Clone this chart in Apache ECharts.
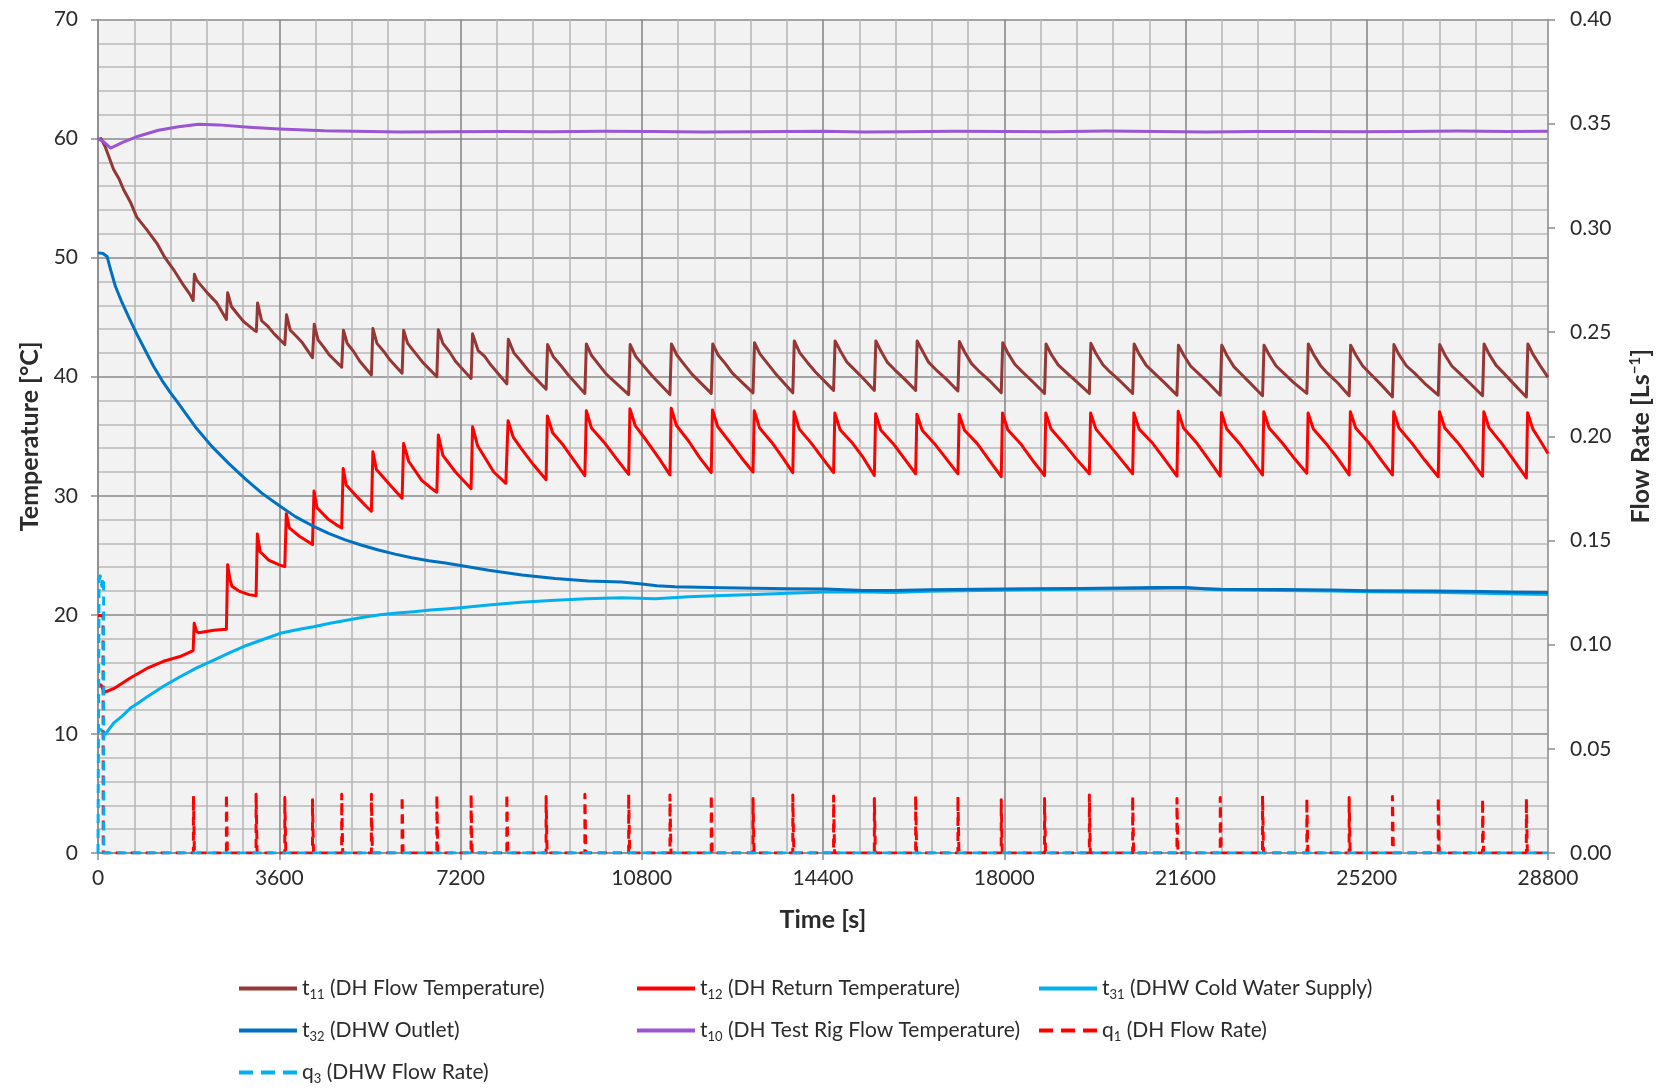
<!DOCTYPE html>
<html>
<head>
<meta charset="utf-8">
<script src="https://cdn.jsdelivr.net/npm/echarts@6/dist/echarts.min.js"></script>
<style>
  html, body { margin: 0; padding: 0; background: #ffffff; }
  #chart { width: 1663px; height: 1088px; }
</style>
</head>
<body>
<div id="chart"></div>
<script>
// ---- Axis ticks ----
const timeTicks = [0, 3600, 7200, 10800, 14400, 18000, 21600, 25200, 28800];
const tempTicks = [0, 10, 20, 30, 40, 50, 60, 70];
const flowTicks = [0, 0.05, 0.10, 0.15, 0.20, 0.25, 0.30, 0.35, 0.40];

// ---- Legend labels: symbol, subscript, description ----
const labelBase = ['t', 't', 't', 't', 't', 'q', 'q'];
const labelSub  = ['11', '12', '31', '32', '10', '1', '3'];
const labelDesc = ['DH Flow Temperature', 'DH Return Temperature', 'DHW Cold Water Supply',
                   'DHW Outlet', 'DH Test Rig Flow Temperature', 'DH Flow Rate', 'DHW Flow Rate'];

// ---- t11: DH flow temperature [°C], [time s, value] ----
const t11 = [
  [0,59.9],[60,60.0],[145,59.3],[310,57.4],[420,56.6],[510,55.7],[640,54.7],[770,53.4],[960,52.4],[1170,51.2],[1330,50.0],[1500,49.0],[1680,47.8],[1830,46.9],[1890,46.4],
  [1915,48.6],[1960,48.1],[2000,47.9],[2180,47.0],[2360,46.2],[2550,44.8],
  [2575,47.05],[2650,45.9],[2780,45.2],[2900,44.6],[3090,43.95],[3145,43.8],
  [3170,46.2],[3250,44.7],[3380,44.2],[3500,43.6],[3710,42.7],
  [3745,45.2],[3820,43.9],[3940,43.4],[4050,42.9],[4260,41.6],
  [4295,44.4],[4370,43.1],[4480,42.5],[4600,41.8],[4840,40.8],
  [4875,43.9],[4950,42.8],[5080,42.1],[5200,41.3],[5430,40.15],
  [5460,44.05],[5540,42.8],[5680,42.1],[5800,41.4],[6040,40.3],
  [6070,43.9],[6150,42.8],[6300,42.0],[6450,41.2],[6730,40.0],
  [6760,43.95],[6850,42.8],[6980,42.1],[7100,41.3],[7410,39.85],
  [7440,43.6],[7550,42.2],[7680,41.7],[7800,41.0],[8120,39.4],
  [8150,43.15],[8260,42.0],[8400,41.3],[8550,40.5],[8900,38.95],
  [8930,42.7],[9040,41.7],[9200,40.9],[9350,40.1],[9670,38.6],
  [9700,42.75],[9800,41.8],[9950,41.0],[10100,40.2],[10540,38.5],
  [10570,42.7],[10680,41.7],[10840,40.9],[11000,40.1],[11360,38.5],
  [11390,42.75],[11500,41.8],[11650,41.0],[11800,40.2],[12180,38.6],
  [12210,42.75],[12320,41.8],[12460,41.1],[12600,40.3],[13010,38.65],
  [13040,42.85],[13150,41.9],[13300,41.1],[13450,40.3],[13800,38.65],
  [13830,43.0],[13940,42.0],[14090,41.2],[14250,40.4],[14610,38.85],
  [14640,43.0],[14740,42.2],[14870,41.25],[15000,40.7],[15200,39.85],[15420,38.85],
  [15450,43.0],[15550,42.15],[15680,41.2],[15820,40.6],[16020,39.8],[16240,38.85],
  [16270,43.0],[16370,42.2],[16500,41.2],[16640,40.6],[16850,39.8],[17080,38.8],
  [17110,42.95],[17210,42.1],[17350,41.1],[17490,40.5],[17700,39.7],[17940,38.65],
  [17970,42.85],[18070,42.0],[18210,41.05],[18350,40.45],[18560,39.6],[18800,38.6],
  [18830,42.75],[18930,41.9],[19070,41.0],[19220,40.4],[19430,39.6],[19690,38.6],
  [19720,42.8],[19820,41.95],[19960,41.0],[20100,40.4],[20310,39.6],[20550,38.6],
  [20580,42.75],[20680,41.9],[20820,40.95],[20970,40.35],[21180,39.5],[21430,38.45],
  [21460,42.65],[21560,41.85],[21700,40.9],[21850,40.3],[22050,39.5],[22290,38.45],
  [22320,42.65],[22420,41.8],[22560,40.85],[22700,40.25],[22900,39.4],[23130,38.4],
  [23160,42.65],[23260,41.85],[23400,40.9],[23550,40.3],[23750,39.5],[24010,38.6],
  [24040,42.75],[24140,41.9],[24280,40.95],[24420,40.3],[24630,39.45],[24850,38.4],
  [24880,42.65],[24980,41.85],[25120,40.9],[25270,40.25],[25470,39.4],[25710,38.3],
  [25740,42.7],[25840,41.85],[25990,40.9],[26150,40.3],[26350,39.45],[26620,38.45],
  [26650,42.7],[26750,41.85],[26890,40.9],[27040,40.3],[27250,39.45],[27500,38.4],
  [27530,42.75],[27630,41.9],[27770,40.95],[27920,40.3],[28120,39.4],[28370,38.3],
  [28400,42.75],[28500,41.9],[28640,40.95],[28800,39.95]
];

// ---- t12: DH return temperature [°C] ----
const t12 = [
  [0,14.2],[60,14.1],[130,13.5],[310,13.8],[640,14.7],[970,15.5],[1300,16.1],[1630,16.5],[1890,17.0],
  [1910,19.3],[1960,18.6],[2000,18.5],[2300,18.7],[2550,18.8],
  [2575,24.2],[2620,23.0],[2660,22.4],[2800,22.0],[3000,21.7],[3140,21.6],
  [3165,26.8],[3220,25.3],[3390,24.6],[3600,24.2],[3710,24.05],
  [3740,28.5],[3800,27.3],[4000,26.6],[4150,26.2],[4260,25.9],
  [4290,30.4],[4350,29.0],[4580,28.0],[4720,27.6],[4840,27.3],
  [4870,32.3],[4930,30.9],[5170,29.8],[5330,29.1],[5430,28.7],
  [5460,33.7],[5530,32.2],[5770,31.05],[5930,30.3],[6040,29.8],
  [6070,34.4],[6170,32.9],[6430,31.3],[6600,30.7],[6730,30.3],
  [6760,35.1],[6850,33.4],[7100,32.0],[7300,31.1],[7410,30.6],
  [7440,35.8],[7540,34.2],[7860,32.0],[8100,31.05],
  [8145,36.3],[8250,34.9],[8400,34.0],[8650,32.6],[8900,31.35],
  [8925,36.7],[9030,35.3],[9250,34.2],[9450,33.0],[9670,31.7],
  [9700,37.15],[9800,35.7],[10050,34.5],[10300,33.1],[10540,31.8],
  [10565,37.3],[10670,35.9],[10900,34.6],[11150,33.1],[11360,31.75],
  [11385,37.35],[11490,35.9],[11730,34.6],[11950,33.2],[12180,31.95],
  [12205,37.2],[12310,35.8],[12550,34.5],[12780,33.2],[13010,32.0],
  [13035,37.15],[13140,35.7],[13380,34.5],[13600,33.2],[13800,31.95],
  [13825,37.05],[13930,35.6],[14170,34.4],[14400,33.1],[14610,31.95],
  [14635,36.95],[14740,35.55],[14970,34.5],[15200,33.2],[15420,31.7],
  [15445,36.9],[15550,35.5],[15790,34.4],[16020,33.1],[16240,31.85],
  [16265,36.85],[16370,35.5],[16610,34.4],[16850,33.1],[17080,31.85],
  [17105,36.85],[17210,35.5],[17460,34.4],[17700,33.0],[17940,31.6],
  [17965,36.95],[18070,35.55],[18320,34.4],[18560,33.0],[18800,31.7],
  [18825,36.95],[18930,35.6],[19180,34.4],[19430,33.1],[19690,31.85],
  [19715,36.95],[19820,35.6],[20060,34.4],[20310,33.1],[20550,31.85],
  [20575,36.95],[20680,35.6],[20930,34.5],[21180,33.1],[21430,31.65],
  [21455,37.1],[21560,35.7],[21810,34.5],[22050,33.1],[22290,31.65],
  [22315,37.0],[22420,35.6],[22670,34.4],[22900,33.1],[23130,31.75],
  [23155,37.05],[23260,35.7],[23510,34.5],[23750,33.2],[24010,31.9],
  [24035,36.95],[24140,35.6],[24390,34.4],[24630,33.1],[24850,31.75],
  [24875,37.05],[24980,35.7],[25230,34.5],[25470,33.1],[25710,31.75],
  [25735,37.05],[25840,35.7],[26100,34.4],[26350,33.0],[26620,31.6],
  [26645,37.05],[26750,35.7],[27000,34.5],[27250,33.1],[27500,31.65],
  [27525,37.05],[27630,35.7],[27880,34.4],[28120,33.0],[28370,31.5],
  [28395,36.98],[28500,35.6],[28650,34.6],[28800,33.55]
];

// ---- t31: DHW cold water supply [°C] ----
const t31 = [
  [0,10.4],[60,10.35],[150,10.0],[310,10.9],[480,11.5],[640,12.15],[800,12.6],[970,13.1],[1300,14.0],[1630,14.8],
  [1960,15.55],[2300,16.2],[2630,16.85],[2960,17.45],[3290,17.95],[3620,18.45],[3950,18.75],[4280,19.0],[4610,19.3],
  [4940,19.55],[5270,19.8],[5600,20.0],[5940,20.15],[6270,20.27],[6600,20.4],[6900,20.5],[7200,20.6],[7760,20.83],
  [8400,21.05],[9080,21.22],[9700,21.35],[10400,21.43],[11070,21.35],[11730,21.52],[12400,21.62],[13050,21.72],
  [13700,21.82],[14450,21.92],[15000,21.95],[15800,21.88],[16500,21.98],[17500,22.05],[18500,22.1],[19500,22.15],
  [20300,22.2],[21000,22.22],[21600,22.25],[22300,22.1],[23500,22.05],[24500,22.0],[25230,21.95],[26500,21.9],
  [27500,21.82],[28200,21.75],[28800,21.7]
];

// ---- t32: DHW outlet [°C] ----
const t32 = [
  [0,50.4],[100,50.35],[180,50.1],[250,49.0],[345,47.6],[470,46.3],[610,45.0],[770,43.6],[940,42.2],[1100,40.9],
  [1270,39.7],[1430,38.7],[1600,37.75],[1930,35.8],[2260,34.15],[2600,32.7],[2930,31.4],[3260,30.2],[3590,29.2],
  [3920,28.25],[4250,27.5],[4580,26.85],[4910,26.3],[5240,25.85],[5570,25.45],[5900,25.1],[6230,24.8],[6570,24.55],
  [6900,24.35],[7200,24.15],[7760,23.75],[8420,23.35],[9080,23.05],[9740,22.85],[10400,22.75],[10800,22.6],
  [11100,22.45],[11460,22.37],[12400,22.28],[13700,22.2],[14450,22.18],[15200,22.05],[15800,22.05],[16500,22.1],
  [17500,22.15],[18500,22.2],[19500,22.22],[20300,22.25],[21000,22.3],[21600,22.3],[22000,22.2],[22300,22.15],
  [23500,22.12],[24500,22.08],[25230,22.03],[26500,22.0],[27500,21.97],[28200,21.9],[28800,21.87]
];

// ---- t10: DH test rig flow temperature [°C] ----
const t10 = [
  [0,60.0],[120,59.7],[250,59.2],[500,59.7],[800,60.2],[1200,60.7],[1600,61.0],[2000,61.2],[2400,61.15],
  [3000,60.95],[3600,60.8],[4500,60.65],[6000,60.55],[7000,60.58],[8000,60.6],[9000,60.58],[10000,60.62],
  [11000,60.6],[12000,60.55],[13000,60.58],[14400,60.62],[15200,60.55],[16000,60.58],[17000,60.62],[18000,60.6],
  [19000,60.58],[20000,60.63],[21000,60.6],[22000,60.55],[23000,60.6],[24000,60.6],[25000,60.58],[26000,60.6],
  [27000,60.63],[28000,60.6],[28800,60.62]
];

// ---- q1: DH flow rate [L/s], draw-off pulses ----
const q1Start = [1895,2550,3140,3710,4260,4840,5430,6040,6730,7410,8120,8900,9670,10540,11360,12180,13010,13800,
                 14610,15420,16240,17080,17940,18800,19690,20550,21430,22290,23130,24010,24850,25710,26620,27500,28370];
const q1End   = [1915,2570,3160,3730,4280,4860,5450,6060,6750,7430,8140,8920,9690,10560,11380,12200,13030,13820,
                 14630,15440,16260,17100,17960,18820,19710,20570,21450,22310,23150,24030,24870,25730,26640,27520,28390];
const q1Peak  = [0.0274,0.0282,0.0282,0.0266,0.0255,0.0282,0.0282,0.0271,0.0278,0.0282,0.0282,0.0271,0.0282,0.0282,
                 0.0278,0.0278,0.0261,0.0278,0.0274,0.0261,0.0274,0.0271,0.0255,0.0261,0.0278,0.0271,0.0261,0.0266,
                 0.0274,0.0261,0.0266,0.0271,0.0266,0.0258,0.0261];
const q1Initial = [[0,0.114],[100,0.114],[105,0]];

// ---- q3: DHW flow rate [L/s] ----
const q3 = [[0,0],[20,0.131],[45,0.133],[75,0.128],[95,0.132],[112,0.13],[115,0],[28800,0]];

// Pulse series for q1 built from the start/end/peak lists
const q1 = q1Initial.slice();
for (let i = 0; i < q1Start.length; i++) {
  q1.push([q1Start[i], 0], [q1Start[i], q1Peak[i]], [q1End[i], q1Peak[i]], [q1End[i], 0]);
}
q1.push([28800, 0]);

const names = labelBase.map((b, i) => b + labelSub[i] + ' (' + labelDesc[i] + ')');
const richNames = {};
names.forEach((n, i) => { richNames[n] = labelBase[i] + '{s|' + labelSub[i] + '} (' + labelDesc[i] + ')'; });

const colors = ['#953735', '#ff0000', '#00b0f0', '#0070c0', '#9b55d2', '#ff0000', '#00b0f0'];
const seriesData = [t11, t12, t31, t32, t10, q1, q3];
const axisIdx = [0, 0, 0, 0, 0, 1, 1];
const dashed = [false, false, false, false, false, true, true];

const FONT = 'Lato, "Open Sans", sans-serif';
const TXT = '#2b2b2b';

const series = seriesData.map((d, i) => ({
  name: names[i],
  type: 'line',
  yAxisIndex: axisIdx[i],
  data: d,
  showSymbol: false,
  symbol: 'none',
  sampling: 'none',
  lineStyle: { color: colors[i], width: 3, type: dashed[i] ? [9, 6] : 'solid', cap: 'butt', join: 'round' },
  itemStyle: { color: colors[i] },
  z: 3 + i
}));

// Legend keys: a solid bar, or three dashes for the flow rates
const solidIcon = 'rect';
const dashIcon = 'path://M0,0h14v4h-14z M22,0h14v4h-14z M44,0h14v4h-14z';

// Legend laid out in three columns
const legendPos = [
  [234, 971], [632, 971], [1034, 971],
  [234, 1013], [632, 1013], [1034, 1013],
  [234, 1055]
];
const legends = names.map((n, i) => ({
  data: [{ name: n, icon: dashed[i] ? dashIcon : solidIcon }],
  left: legendPos[i][0],
  top: legendPos[i][1],
  itemWidth: 58,
  itemHeight: 4,
  itemGap: 0,
  selectedMode: false,
  formatter: (name) => richNames[name],
  textStyle: {
    fontFamily: FONT, fontSize: 21, color: TXT, lineHeight: 25,
    rich: { s: { fontFamily: FONT, fontSize: 13, color: TXT, verticalAlign: 'bottom', lineHeight: 25 } }
  }
}));

const chart = echarts.init(document.getElementById('chart'), null, { renderer: 'canvas' });
chart.setOption({
  animation: false,
  backgroundColor: '#ffffff',
  grid: {
    left: 98, right: 115, top: 19.5, bottom: 235,
    show: true, backgroundColor: '#f2f2f2', borderWidth: 0
  },
  legend: legends,
  xAxis: {
    type: 'value',
    min: timeTicks[0], max: timeTicks[timeTicks.length - 1], interval: 3600,
    name: 'Time [s]', nameLocation: 'middle', nameGap: 54,
    nameTextStyle: { fontFamily: FONT, fontSize: 25, fontWeight: 'bold', color: TXT },
    axisLine: { show: true, lineStyle: { color: '#8c8c8c', width: 1.5 } },
    axisTick: { show: true, length: 7, lineStyle: { color: '#8c8c8c', width: 1.5 } },
    axisLabel: { fontFamily: FONT, fontSize: 21, color: TXT, margin: 15,
                 customValues: timeTicks, formatter: (v) => String(v) },
    splitLine: { show: true, lineStyle: { color: '#888888', width: 1.6 } },
    minorTick: { show: false, splitNumber: 5 },
    minorSplitLine: { show: true, lineStyle: { color: '#b8b8b8', width: 1.6 } }
  },
  yAxis: [
    {
      type: 'value', min: tempTicks[0], max: tempTicks[tempTicks.length - 1], interval: 10,
      name: 'Temperature [°C]', nameLocation: 'middle', nameGap: 54, nameRotate: 90,
      nameTextStyle: { fontFamily: FONT, fontSize: 25, fontWeight: 'bold', color: TXT },
      axisLine: { show: true, lineStyle: { color: '#8c8c8c', width: 1.5 } },
      axisTick: { show: true, length: 7, lineStyle: { color: '#8c8c8c', width: 1.5 } },
      axisLabel: { fontFamily: FONT, fontSize: 21, color: TXT, margin: 20 },
      splitLine: { show: true, lineStyle: { color: '#888888', width: 1.6 } },
      minorTick: { show: false, splitNumber: 5 },
      minorSplitLine: { show: true, lineStyle: { color: '#b8b8b8', width: 1.6 } }
    },
    {
      type: 'value', min: flowTicks[0], max: flowTicks[flowTicks.length - 1], interval: 0.05,
      position: 'right',
      name: 'Flow Rate [Ls{sup|−1}]', nameLocation: 'middle', nameGap: 80, nameRotate: 90,
      nameTextStyle: {
        fontFamily: FONT, fontSize: 25, fontWeight: 'bold', color: TXT,
        rich: { sup: { fontFamily: FONT, fontSize: 15, fontWeight: 'bold', color: TXT, verticalAlign: 'top' } }
      },
      axisLine: { show: true, lineStyle: { color: '#a6a6a6', width: 1.5 } },
      axisTick: { show: true, length: 7, lineStyle: { color: '#8c8c8c', width: 1.5 } },
      axisLabel: { fontFamily: FONT, fontSize: 21, color: TXT, margin: 22,
                   formatter: (v) => v.toFixed(2) },
      splitLine: { show: false }
    }
  ],
  series: series
});
</script>
</body>
</html>
